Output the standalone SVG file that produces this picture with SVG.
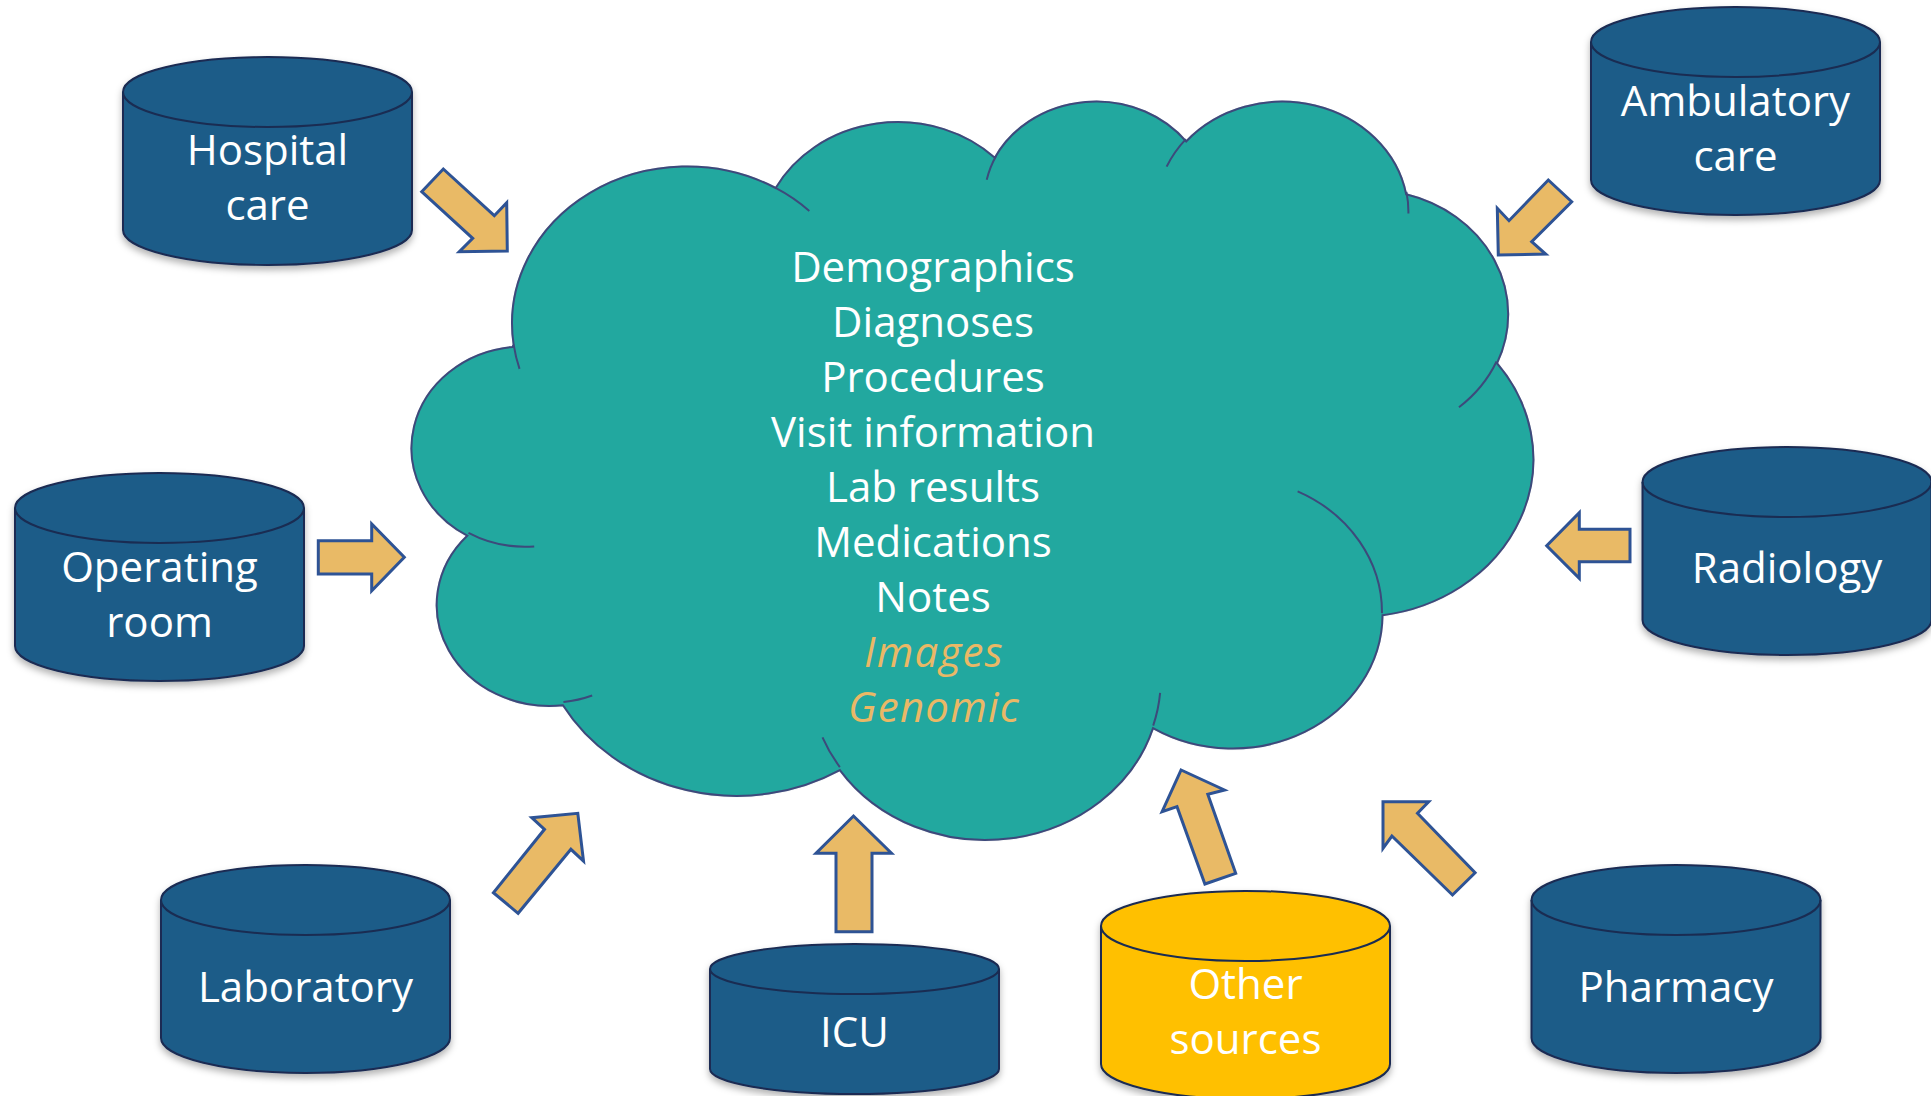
<svg xmlns="http://www.w3.org/2000/svg" xmlns:xlink="http://www.w3.org/1999/xlink" width="1931" height="1096" viewBox="0 0 1931 1096">
<style>
  .cyl { fill: #1F5B88; stroke: #1A2C52; stroke-width: 2; }
  .cyl.gold { fill: #FFC000; }
  .cyltop { fill: none; stroke: #1A2C52; stroke-width: 2; }
  .lbl { font-family: "Open Sans", "Liberation Sans", sans-serif; font-size: 42px; fill: #FFFFFF; text-anchor: middle; }
  .cloud { fill: #21A89F; stroke: #3D4A7B; stroke-width: 2; }
  .cloudin { fill: none; stroke: #3D4A7B; stroke-width: 2; }
  .item { font-family: "Open Sans", "Liberation Sans", sans-serif; font-size: 42px; fill: #FFFFFF; text-anchor: middle; }
  .item.hi { fill: #EAB866; font-style: italic; letter-spacing: 1.2px; }
  .arrow { fill: #E9BA66; stroke: #2E5395; stroke-width: 3; stroke-linejoin: miter; }
</style>
<defs>
  <filter id="shadow" x="-10%" y="-10%" width="120%" height="130%">
    <feDropShadow dx="0" dy="4" stdDeviation="3.5" flood-color="#000000" flood-opacity="0.3"/>
  </filter>
  <path id="cylBody" d="M0,35 V173 A144.5,35 0 0 0 289,173 V35 A144.5,35 0 0 0 0,35 Z"/>
  <path id="cylTop" d="M0,35 A144.5,35 0 0 0 289,35"/>
  <path id="cylBodyShort" d="M0,25 V125 A144.5,25 0 0 0 289,125 V25 A144.5,25 0 0 0 0,25 Z"/>
  <path id="cylTopShort" d="M0,25 A144.5,25 0 0 0 289,25"/>
</defs>

<rect x="0" y="0" width="1931" height="1096" fill="#FFFFFF"/>

<g id="cloud">
  <g transform="translate(412.5,99.1) scale(0.025935,0.017089)">
    <path class="cloud" vector-effect="non-scaling-stroke" filter="url(#shadow)" d="M3900,14370 A6753,9190 0 0 1 14004,5202 A5333,7267 0 0 1 22454,3432 A4365,5945 0 0 1 29830,2479 A4857,6595 0 0 1 38315,5573 A5333,7273 0 0 1 41816,15457 A6775,9220 0 0 1 37402,30201 A5785,7867 0 0 1 28553,36810 A6752,9215 0 0 1 16478,39264 A7720,10543 0 0 1 5802,35470 A4360,5918 0 0 1 2111,25547 A4345,5945 0 0 1 3861,14503 Z"/>
    <path class="cloudin" vector-effect="non-scaling-stroke" d="M4693,26177 A4345,5945 0 0 1 2159,25380 M6928,34899 A4360,5918 0 0 1 5819,35281 M16478,39090 A6752,9215 0 0 1 15809,37348 M28827,34751 A6752,9215 0 0 1 28560,36660 M34129,22954 A5785,7867 0 0 1 37380,30089 M41798,15354 A5333,7273 0 0 1 40350,18030 M38324,5426 A4857,6595 0 0 1 38400,6689 M29078,3952 A4857,6595 0 0 1 29820,2339 M22141,4720 A4365,5945 0 0 1 22500,3331 M14000,5192 A6753,9190 0 0 1 15301,6541 M4127,15789 A6753,9190 0 0 1 3900,14371"/>
  </g>
  <text class="item" x="933" y="282">Demographics</text>
  <text class="item" x="933" y="337">Diagnoses</text>
  <text class="item" x="933" y="392">Procedures</text>
  <text class="item" x="933" y="447">Visit information</text>
  <text class="item" x="933" y="502">Lab results</text>
  <text class="item" x="933" y="557">Medications</text>
  <text class="item" x="933" y="612">Notes</text>
  <text class="item hi" x="934" y="667">Images</text>
  <text class="item hi" x="934" y="722">Genomic</text>
</g>

<g id="hospital-care" transform="translate(123,57)">
  <use href="#cylBody" class="cyl" filter="url(#shadow)"/>
  <use href="#cylTop" class="cyltop"/>
  <text class="lbl" x="144.5" y="108">Hospital</text>
  <text class="lbl" x="144.5" y="163">care</text>
</g>

<g id="ambulatory-care" transform="translate(1591,7)">
  <use href="#cylBody" class="cyl" filter="url(#shadow)"/>
  <use href="#cylTop" class="cyltop"/>
  <text class="lbl" x="144.5" y="109">Ambulatory</text>
  <text class="lbl" x="144.5" y="164">care</text>
</g>

<g id="operating-room" transform="translate(15,473)">
  <use href="#cylBody" class="cyl" filter="url(#shadow)"/>
  <use href="#cylTop" class="cyltop"/>
  <text class="lbl" x="144.5" y="108.7">Operating</text>
  <text class="lbl" x="144.5" y="163.7">room</text>
</g>

<g id="radiology" transform="translate(1642.5,447)">
  <use href="#cylBody" class="cyl" filter="url(#shadow)"/>
  <use href="#cylTop" class="cyltop"/>
  <text class="lbl" x="144.5" y="136.3">Radiology</text>
</g>

<g id="laboratory" transform="translate(161,865)">
  <use href="#cylBody" class="cyl" filter="url(#shadow)"/>
  <use href="#cylTop" class="cyltop"/>
  <text class="lbl" x="144.5" y="136.7">Laboratory</text>
</g>

<g id="icu" transform="translate(710,944)">
  <use href="#cylBodyShort" class="cyl" filter="url(#shadow)"/>
  <use href="#cylTopShort" class="cyltop"/>
  <text class="lbl" x="144.5" y="102.7">ICU</text>
</g>

<g id="other-sources" transform="translate(1101,891)">
  <use href="#cylBody" class="cyl gold" filter="url(#shadow)"/>
  <use href="#cylTop" class="cyltop"/>
  <text class="lbl" x="144.5" y="108">Other</text>
  <text class="lbl" x="144.5" y="163">sources</text>
</g>

<g id="pharmacy" transform="translate(1531.5,865)">
  <use href="#cylBody" class="cyl" filter="url(#shadow)"/>
  <use href="#cylTop" class="cyltop"/>
  <text class="lbl" x="144.5" y="136.7">Pharmacy</text>
</g>

<g id="connectors">
  <polygon class="arrow" points="421.7,191.7 443.3,169 494.3,215.7 506.7,202.7 507.3,251 459.3,251.7 472.7,238.3"/>
  <polygon class="arrow" points="1548.3,180 1571.7,201.7 1531.7,241.7 1545.7,254 1498.3,255 1497.3,208.3 1509,220.7"/>
  <polygon class="arrow" points="318.3,540.7 371.7,540.7 371.7,524 404.3,557.3 371.7,590.7 371.7,574 318.3,574"/>
  <polygon class="arrow" points="1630,529.3 1579.3,529.3 1579.3,512.7 1546.7,545.7 1579.3,578.3 1579.3,561.7 1630,561.7"/>
  <polygon class="arrow" points="518.1,913.3 493.4,892.7 544.5,829.3 531.8,817.7 577.8,813.3 583.5,861 570.9,849.3"/>
  <polygon class="arrow" points="836,931.7 836,853.3 816,853.3 853.5,816 891.5,853.3 872,853.3 872,931.7"/>
  <polygon class="arrow" points="1181.1,770 1224.5,790 1207.8,794.3 1235.7,873.3 1204.9,884 1177,806.7 1162.1,811.7"/>
  <polygon class="arrow" points="1383,801.7 1428.7,801.7 1417.5,813.3 1475.1,872.7 1452.5,895 1391.9,836 1383,848.3"/>
</g>
</svg>
